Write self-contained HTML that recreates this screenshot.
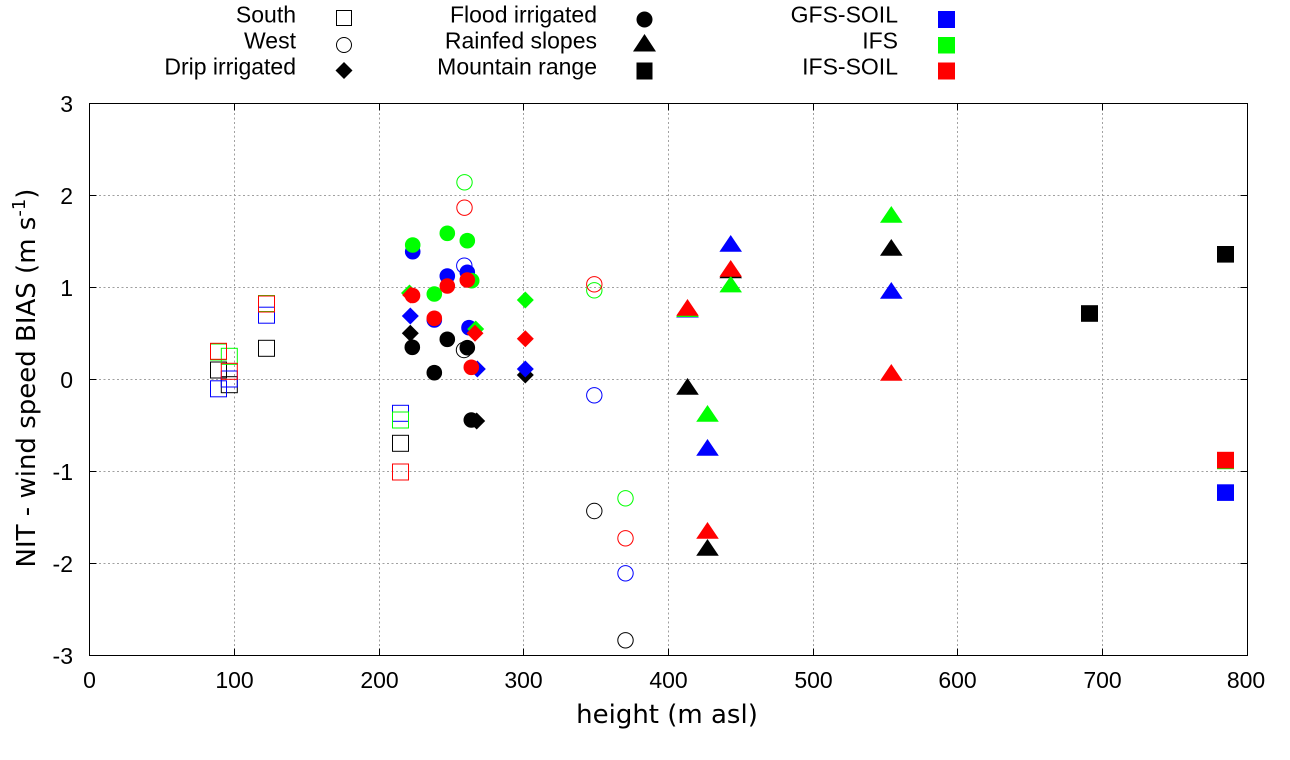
<!DOCTYPE html>
<html>
<head>
<meta charset="utf-8">
<style>
html,body{margin:0;padding:0;background:#fff;}
svg{display:block;}
.t{font-family:"Liberation Sans",Arial,sans-serif;font-size:23px;fill:#000;}
.ti{font-family:"DejaVu Sans","Liberation Sans",sans-serif;font-size:26px;fill:#000;}
</style>
</head>
<body>
<svg width="1290" height="760" viewBox="0 0 1290 760" xmlns="http://www.w3.org/2000/svg">
<rect x="0" y="0" width="1290" height="760" fill="#fff"/>

<!-- grid -->
<g stroke="#a0a0a0" stroke-width="1" stroke-dasharray="2,2.5" fill="none">
  <line x1="234.5" y1="104" x2="234.5" y2="655"/>
  <line x1="379.5" y1="104" x2="379.5" y2="655"/>
  <line x1="523.5" y1="104" x2="523.5" y2="655"/>
  <line x1="668.5" y1="104" x2="668.5" y2="655"/>
  <line x1="813.5" y1="104" x2="813.5" y2="655"/>
  <line x1="957.5" y1="104" x2="957.5" y2="655"/>
  <line x1="1102.5" y1="104" x2="1102.5" y2="655"/>
  <line x1="90" y1="195.5" x2="1247" y2="195.5"/>
  <line x1="90" y1="287.5" x2="1247" y2="287.5"/>
  <line x1="90" y1="379.5" x2="1247" y2="379.5"/>
  <line x1="90" y1="471.5" x2="1247" y2="471.5"/>
  <line x1="90" y1="563.5" x2="1247" y2="563.5"/>
</g>

<!-- ticks -->
<g stroke="#000" stroke-width="1">
  <line x1="234.5" y1="655.5" x2="234.5" y2="648.5"/><line x1="234.5" y1="103.5" x2="234.5" y2="110.5"/>
  <line x1="379.5" y1="655.5" x2="379.5" y2="648.5"/><line x1="379.5" y1="103.5" x2="379.5" y2="110.5"/>
  <line x1="523.5" y1="655.5" x2="523.5" y2="648.5"/><line x1="523.5" y1="103.5" x2="523.5" y2="110.5"/>
  <line x1="668.5" y1="655.5" x2="668.5" y2="648.5"/><line x1="668.5" y1="103.5" x2="668.5" y2="110.5"/>
  <line x1="813.5" y1="655.5" x2="813.5" y2="648.5"/><line x1="813.5" y1="103.5" x2="813.5" y2="110.5"/>
  <line x1="957.5" y1="655.5" x2="957.5" y2="648.5"/><line x1="957.5" y1="103.5" x2="957.5" y2="110.5"/>
  <line x1="1102.5" y1="655.5" x2="1102.5" y2="648.5"/><line x1="1102.5" y1="103.5" x2="1102.5" y2="110.5"/>
  <line x1="89.5" y1="195.5" x2="96.5" y2="195.5"/><line x1="1247.5" y1="195.5" x2="1240.5" y2="195.5"/>
  <line x1="89.5" y1="287.5" x2="96.5" y2="287.5"/><line x1="1247.5" y1="287.5" x2="1240.5" y2="287.5"/>
  <line x1="89.5" y1="379.5" x2="96.5" y2="379.5"/><line x1="1247.5" y1="379.5" x2="1240.5" y2="379.5"/>
  <line x1="89.5" y1="471.5" x2="96.5" y2="471.5"/><line x1="1247.5" y1="471.5" x2="1240.5" y2="471.5"/>
  <line x1="89.5" y1="563.5" x2="96.5" y2="563.5"/><line x1="1247.5" y1="563.5" x2="1240.5" y2="563.5"/>
</g>

<!-- frame -->
<rect x="89.5" y="103.5" width="1158" height="552" fill="none" stroke="#000" stroke-width="1"/>

<!-- tick labels -->
<g class="t" text-anchor="middle">
  <text x="89.5" y="688">0</text>
  <text x="234.5" y="688">100</text>
  <text x="379.5" y="688">200</text>
  <text x="523.5" y="688">300</text>
  <text x="668.5" y="688">400</text>
  <text x="813.5" y="688">500</text>
  <text x="957.5" y="688">600</text>
  <text x="1102.5" y="688">700</text>
  <text x="1246" y="688">800</text>
</g>
<g class="t" text-anchor="end">
  <text x="73" y="111.8">3</text>
  <text x="73" y="203.8">2</text>
  <text x="73" y="295.8">1</text>
  <text x="73" y="387.8">0</text>
  <text x="73" y="479.8">-1</text>
  <text x="73" y="571.8">-2</text>
  <text x="73" y="663.8">-3</text>
</g>

<!-- axis titles -->
<text class="ti" x="667" y="723" text-anchor="middle">height (m asl)</text>
<text class="ti" transform="translate(35,378) rotate(-90)" text-anchor="middle">NIT - wind speed BIAS (m s<tspan dy="-10" font-size="18">-1</tspan><tspan dy="10">)</tspan></text>

<!-- legend -->
<g class="t" text-anchor="end">
  <text x="296" y="22.5">South</text>
  <text x="296" y="48.5">West</text>
  <text x="296" y="74.5">Drip irrigated</text>
  <text x="597" y="22.5">Flood irrigated</text>
  <text x="597" y="48.5">Rainfed slopes</text>
  <text x="597" y="74.5">Mountain range</text>
  <text x="898" y="22.5">GFS-SOIL</text>
  <text x="898" y="48.5">IFS</text>
  <text x="898" y="74.5">IFS-SOIL</text>
</g>
<rect x="336.5" y="10.5" width="15" height="15" fill="none" stroke="#000" stroke-width="1"/>
<circle cx="344" cy="45" r="7.5" fill="none" stroke="#000" stroke-width="1"/>
<polygon points="344,62 352.5,70.5 344,79 335.5,70.5" fill="#000"/>
<circle cx="644.5" cy="19.5" r="8" fill="#000"/>
<polygon points="644.5,34 656,51.5 633,51.5" fill="#000"/>
<rect x="636.5" y="62.5" width="16" height="17" fill="#000"/>
<rect x="938" y="11" width="17" height="17" fill="#0000ff"/>
<rect x="938" y="37" width="17" height="16.5" fill="#00ff00"/>
<rect x="938" y="62.5" width="17" height="17" fill="#ff0000"/>

<!-- DATA -->
<!-- black -->
<g fill="none" stroke="#000" stroke-width="1">
  <rect x="210.5" y="362" width="16" height="16"/>
  <rect x="221.3" y="376.7" width="16" height="16"/>
  <rect x="258.5" y="340.3" width="16" height="16"/>
  <rect x="392.5" y="435.3" width="16" height="16"/>
  <circle cx="464" cy="350" r="7.7"/>
  <circle cx="594.3" cy="511" r="7.7"/>
  <circle cx="625.5" cy="640.3" r="7.7"/>
</g>
<g fill="#000">
  <polygon points="410.3,324.8 418.8,333.3 410.3,341.8 401.8,333.3"/>
  <polygon points="476.7,412.5 485.2,421 476.7,429.5 468.2,421"/>
  <polygon points="525.3,366.5 533.8,375 525.3,383.5 516.8,375"/>
  <circle cx="412.3" cy="347.3" r="7.8"/>
  <circle cx="434.3" cy="372.7" r="7.8"/>
  <circle cx="447.3" cy="339.3" r="7.8"/>
  <circle cx="467.3" cy="347.7" r="7.8"/>
  <circle cx="471.3" cy="420" r="7.8"/>
  <polygon points="687.5,378 698.8,394.7 676.2,394.7"/>
  <polygon points="707.5,539 718.8,555.7 696.2,555.7"/>
  <polygon points="730.7,261.5 742,278.2 719.4,278.2"/>
  <polygon points="891.3,239 902.6,255.7 880,255.7"/>
  <rect x="1081" y="305.2" width="17" height="16.6"/>
  <rect x="1217" y="246" width="17" height="16.6"/>
</g>

<!-- blue -->
<g fill="none" stroke="#0000ff" stroke-width="1">
  <rect x="210.5" y="380.8" width="16" height="16"/>
  <rect x="221.3" y="371" width="16" height="16"/>
  <rect x="258.5" y="307.2" width="16" height="16"/>
  <rect x="392.5" y="405.3" width="16" height="16"/>
  <circle cx="464.3" cy="265.7" r="7.7"/>
  <circle cx="594.3" cy="395.3" r="7.7"/>
  <circle cx="625.5" cy="573.3" r="7.7"/>
</g>
<g fill="#0000ff">
  <polygon points="410.3,307.5 418.8,316 410.3,324.5 401.8,316"/>
  <polygon points="477.3,360.5 485.8,369 477.3,377.5 468.8,369"/>
  <polygon points="525.3,360.5 533.8,369 525.3,377.5 516.8,369"/>
  <circle cx="412.7" cy="251.7" r="7.8"/>
  <circle cx="434.3" cy="320" r="7.8"/>
  <circle cx="447.3" cy="276" r="7.8"/>
  <circle cx="467.3" cy="272.3" r="7.8"/>
  <circle cx="469" cy="327.7" r="7.8"/>
  <polygon points="687.5,300.8 698.8,317.5 676.2,317.5"/>
  <polygon points="707.5,439 718.8,455.7 696.2,455.7"/>
  <polygon points="730.7,235 742,251.7 719.4,251.7"/>
  <polygon points="891.3,282 902.6,298.7 880,298.7"/>
  <rect x="1217" y="484.3" width="17" height="16.6"/>
</g>

<!-- green -->
<g fill="none" stroke="#00ff00" stroke-width="1">
  <rect x="210.5" y="344" width="16" height="16"/>
  <rect x="221.3" y="348.3" width="16" height="16"/>
  <rect x="258.5" y="295.5" width="16" height="16"/>
  <rect x="392.5" y="412" width="16" height="16"/>
  <circle cx="464.5" cy="182.3" r="7.7"/>
  <circle cx="594.3" cy="290.3" r="7.7"/>
  <circle cx="625.5" cy="498.3" r="7.7"/>
</g>
<g fill="#00ff00">
  <polygon points="409.5,284.5 418,293 409.5,301.5 401,293"/>
  <polygon points="475.7,320.5 484.2,329 475.7,337.5 467.2,329"/>
  <polygon points="525.3,291.5 533.8,300 525.3,308.5 516.8,300"/>
  <circle cx="412.7" cy="245" r="7.8"/>
  <circle cx="434.3" cy="294" r="7.8"/>
  <circle cx="447.3" cy="233.3" r="7.8"/>
  <circle cx="467.3" cy="240.7" r="7.8"/>
  <circle cx="471.7" cy="280.7" r="7.8"/>
  <polygon points="687.5,300.3 698.8,317 676.2,317"/>
  <polygon points="707.5,405 718.8,421.7 696.2,421.7"/>
  <polygon points="730.7,275.7 742,292.4 719.4,292.4"/>
  <polygon points="891.3,206 902.6,222.7 880,222.7"/>
  <rect x="1217" y="452.6" width="17" height="16.6"/>
</g>

<!-- red -->
<g fill="none" stroke="#ff0000" stroke-width="1">
  <rect x="210.5" y="343.3" width="16" height="16"/>
  <rect x="221.3" y="363.3" width="16" height="16"/>
  <rect x="258.5" y="296" width="16" height="16"/>
  <rect x="392.5" y="464" width="16" height="16"/>
  <circle cx="464.5" cy="207.7" r="7.7"/>
  <circle cx="594.3" cy="284.3" r="7.7"/>
  <circle cx="625.5" cy="538.3" r="7.7"/>
</g>
<g fill="#ff0000">
  <polygon points="410.7,286.5 419.2,295 410.7,303.5 402.2,295"/>
  <polygon points="475,324.8 483.5,333.3 475,341.8 466.5,333.3"/>
  <polygon points="525.3,330.2 533.8,338.7 525.3,347.2 516.8,338.7"/>
  <circle cx="412.5" cy="295.5" r="7.8"/>
  <circle cx="434.3" cy="318.3" r="7.8"/>
  <circle cx="447.3" cy="286" r="7.8"/>
  <circle cx="467.3" cy="280" r="7.8"/>
  <circle cx="471.3" cy="367.3" r="7.8"/>
  <polygon points="687.5,299 698.8,315.7 676.2,315.7"/>
  <polygon points="707.5,522 718.8,538.7 696.2,538.7"/>
  <polygon points="730.7,260 742,276.7 719.4,276.7"/>
  <polygon points="891.3,364 902.6,380.7 880,380.7"/>
  <rect x="1217" y="451.8" width="17" height="16.6"/>
</g>
</svg>
</body>
</html>
